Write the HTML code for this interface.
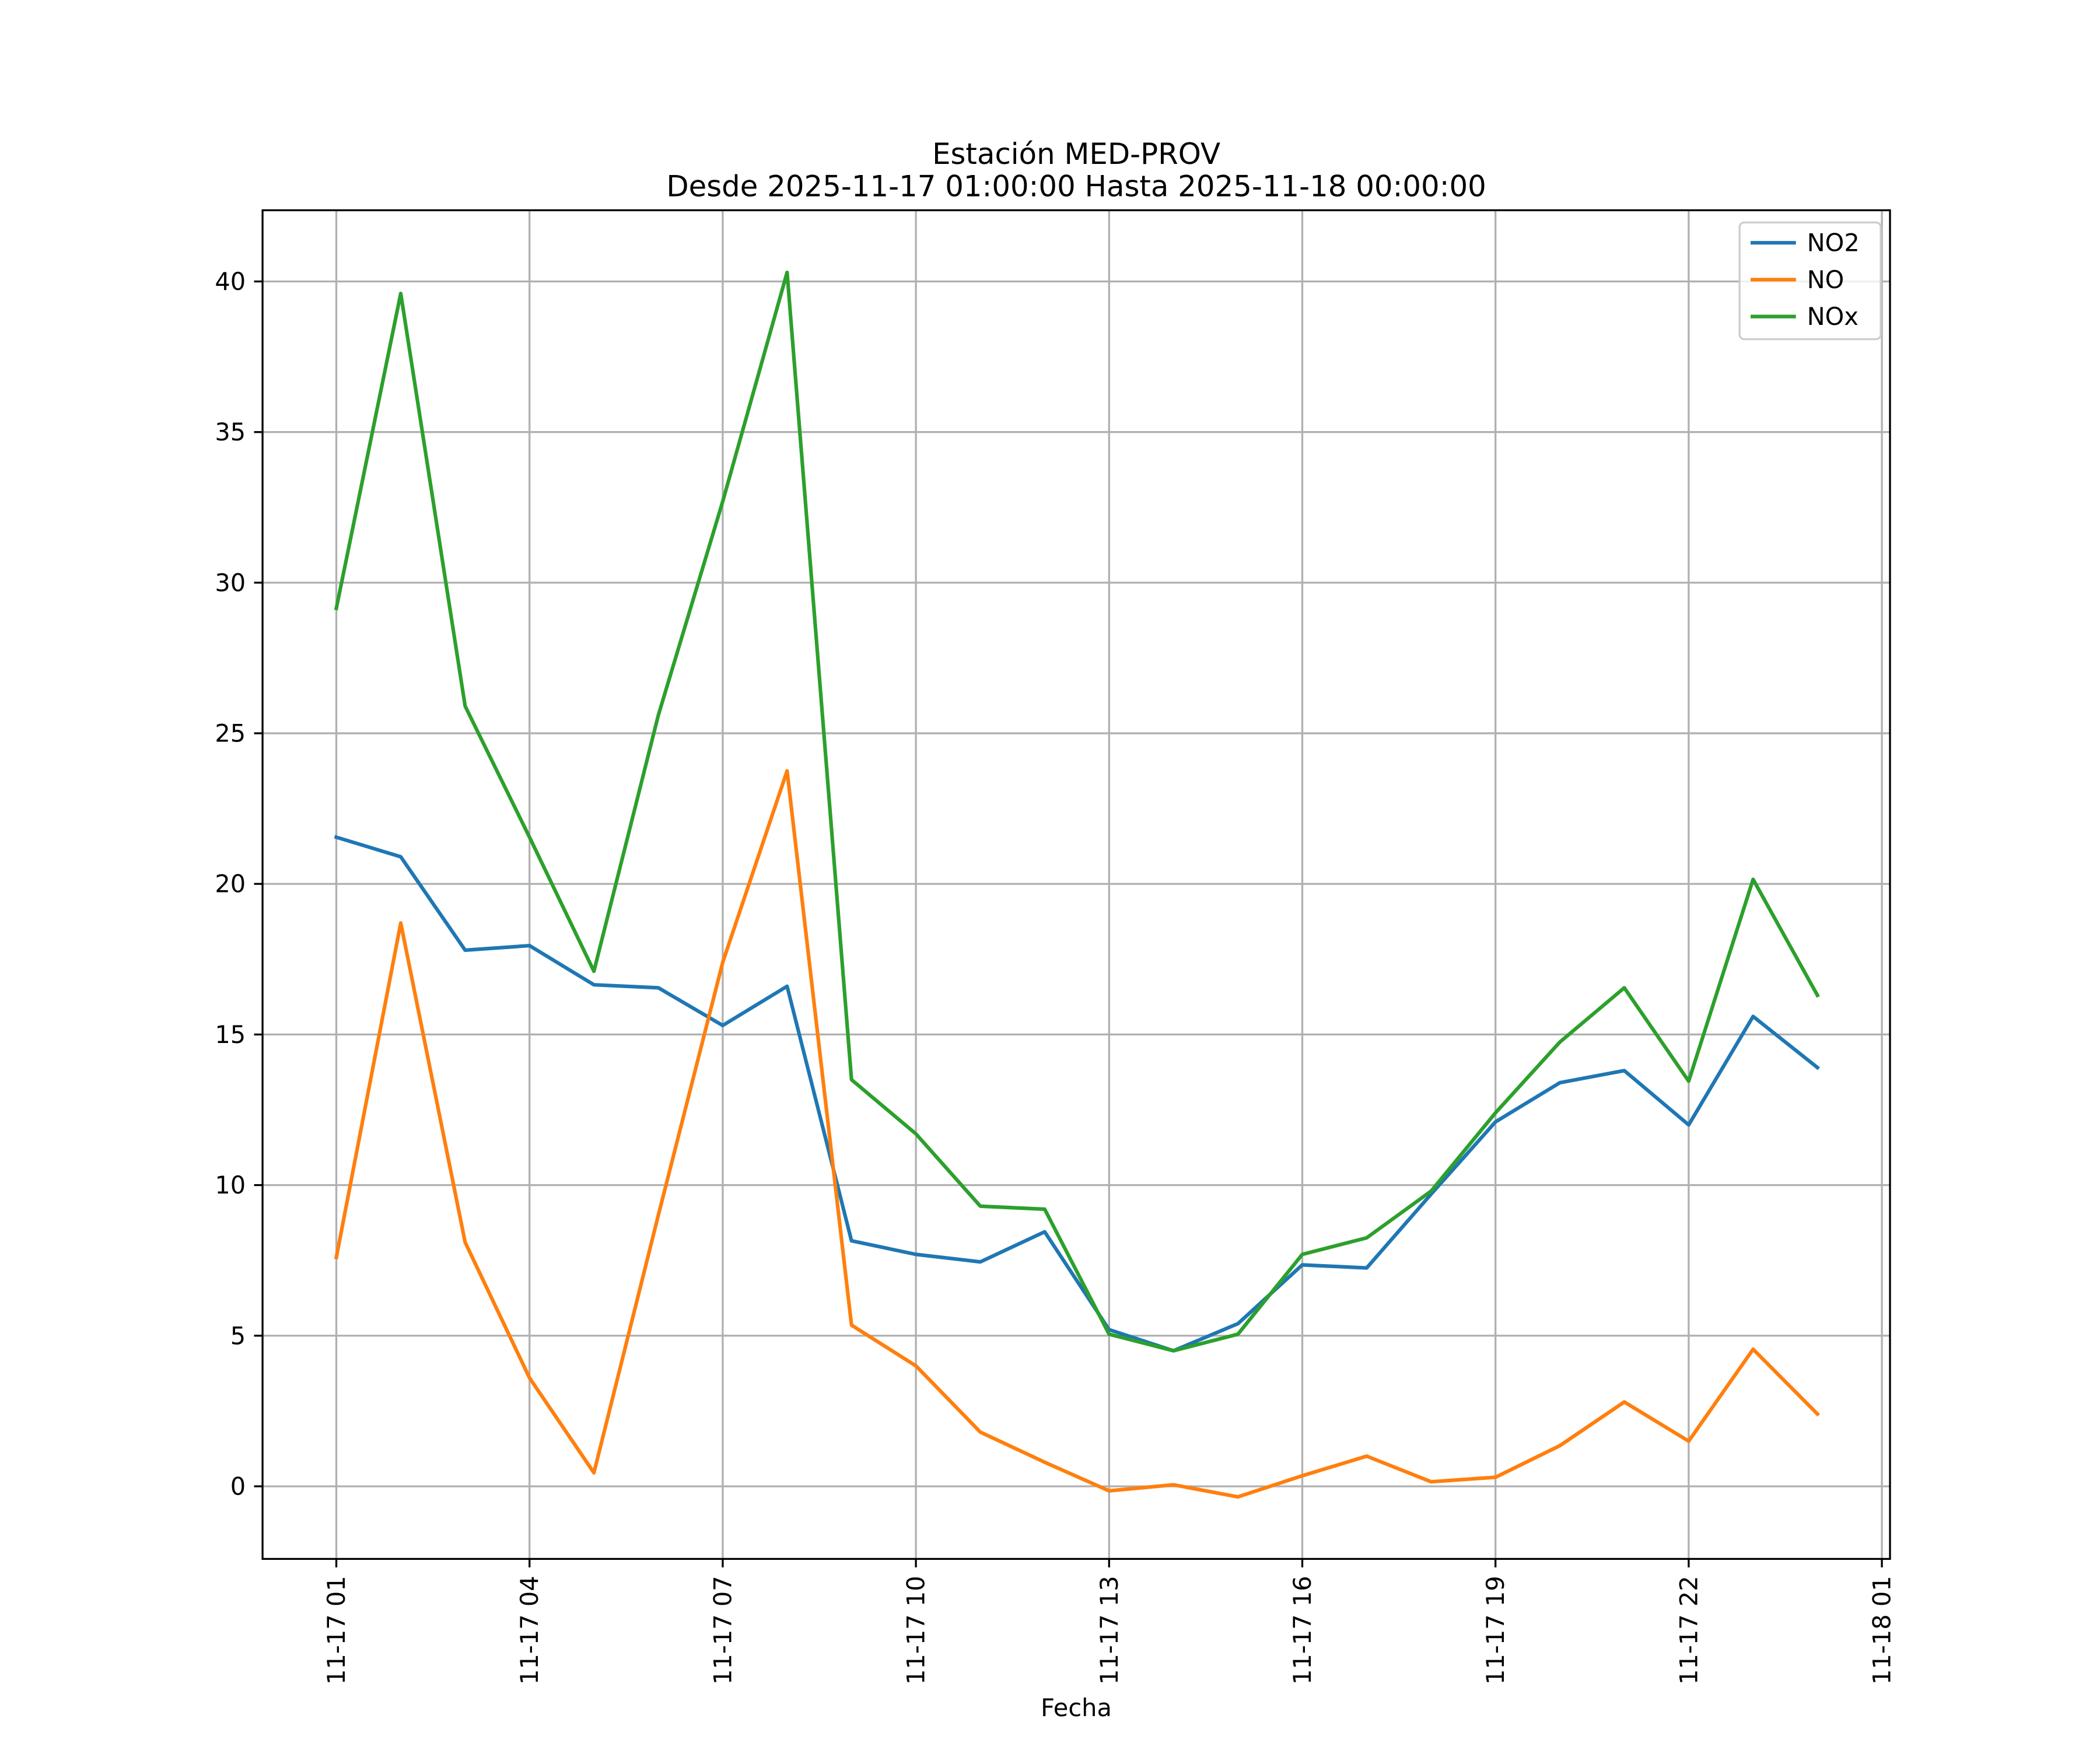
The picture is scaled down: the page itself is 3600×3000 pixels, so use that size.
<!DOCTYPE html>
<html><head><meta charset="utf-8"><style>html,body{margin:0;padding:0;background:#fff}svg{display:block}text{font-family:"DejaVu Sans","Liberation Sans",sans-serif}</style></head>
<body>
<svg id="chart" width="3600" height="3000" viewBox="0 0 3615.5 3013" xmlns="http://www.w3.org/2000/svg">
<rect x="0" y="0" width="3616" height="3014" fill="#fff"/>
<text x="1853" y="265" font-size="50" text-anchor="middle" dominant-baseline="central">Estación MED-PROV</text>
<text x="1853" y="321" font-size="50" text-anchor="middle" dominant-baseline="central">Desde 2025-11-17 01:00:00 Hasta 2025-11-18 00:00:00</text>
<g id="grid"></g>
<g id="series"></g>
<rect x="452" y="362" width="2802" height="2322" fill="none" stroke="#000" stroke-width="3.3"/>
<g id="axes"></g>
<text x="1853" y="2940" font-size="41.7" text-anchor="middle" dominant-baseline="central">Fecha</text>
<g id="legend"></g>
</svg>
<script>
const hours = [1,2,3,4,5,6,7,8,9,10,11,12,13,14,15,16,17,18,19,20,21,22,23,24];
const no2 = [21.55,20.9,17.8,17.95,16.65,16.55,15.3,16.6,8.15,7.7,7.45,8.45,5.2,4.5,5.4,7.35,7.25,9.7,12.1,13.4,13.8,12.0,15.6,13.9];
const no = [7.6,18.7,8.1,3.6,0.45,9.0,17.4,23.75,5.35,4.0,1.8,0.8,-0.15,0.05,-0.35,0.35,1.0,0.15,0.3,1.35,2.8,1.5,4.55,2.4];
const nox = [29.15,39.6,25.9,21.55,17.1,25.6,32.7,40.3,13.5,11.7,9.3,9.2,5.05,4.5,5.05,7.7,8.25,9.8,12.4,14.75,16.55,13.45,20.15,16.3];
const yTicks = [0,5,10,15,20,25,30,35,40];
const xTickHours = [1,4,7,10,13,16,19,22,25];
const xTickLabels = ["11-17 01","11-17 04","11-17 07","11-17 10","11-17 13","11-17 16","11-17 19","11-17 22","11-18 01"];
const seriesNames = ["NO2","NO","NOx"];
const seriesColors = ["#1f77b4","#ff7f0e","#2ca02c"];

const NS="http://www.w3.org/2000/svg";
const L=452,R=3254,T=362,B=2684;
function xs(h){return 579+(h-1)*(3240-579)/24;}
function ys(v){return 2559-v*(2559-484.6)/40;}
function mk(tag,attrs,parent){const e=document.createElementNS(NS,tag);for(const k in attrs)e.setAttribute(k,attrs[k]);parent.appendChild(e);return e;}
const grid=document.getElementById('grid'),axes=document.getElementById('axes'),ser=document.getElementById('series'),leg=document.getElementById('legend');
yTicks.forEach(v=>{
  const y=ys(v);
  const g=mk('line',{x1:L,x2:R,y1:y,y2:y,stroke:'#b0b0b0','stroke-width':3.3},grid);
  
  
  const t=mk('line',{x1:L-14.6,x2:L,y1:y,y2:y,stroke:'#000','stroke-width':3.3},axes);
  
  
  const tx=mk('text',{x:L-29,y:y,'font-size':41.7,'text-anchor':'end','dominant-baseline':'central'},axes);
  tx.textContent=String(v);
  
  
});
xTickHours.forEach((h,i)=>{
  const x=xs(h);
  const g=mk('line',{x1:x,x2:x,y1:T,y2:B,stroke:'#b0b0b0','stroke-width':3.3},grid);
  
  
  const t=mk('line',{x1:x,x2:x,y1:B,y2:B+14.6,stroke:'#000','stroke-width':3.3},axes);
  
  
  const tx=mk('text',{x:0,y:0,'font-size':41.7,'text-anchor':'end','dominant-baseline':'central',transform:`translate(${x},${B+29}) rotate(-90)`},axes);
  tx.textContent=xTickLabels[i];
  
  
});
[no2,no,nox].forEach((arr,si)=>{
  const pts=arr.map((v,i)=>xs(hours[i]).toFixed(1)+','+ys(v).toFixed(1)).join(' ');
  const p=mk('polyline',{points:pts,fill:'none',stroke:seriesColors[si],'stroke-width':6.25,'stroke-linejoin':'round','stroke-linecap':'square'},ser);
  
  
});
const box=mk('rect',{x:2995,y:383,width:243,height:201,rx:8,fill:'#fff','fill-opacity':0.8,stroke:'#ccc','stroke-width':3.3},leg);


seriesNames.forEach((n,i)=>{
  const y=418+i*63.5;
  const l=mk('line',{x1:3014,x2:3092,y1:y,y2:y,stroke:seriesColors[i],'stroke-width':6.25},leg);
  
  
  const t=mk('text',{x:3111,y:y,'font-size':41.7,'dominant-baseline':'central'},leg);
  t.textContent=n;
  
  
});
</script>
</body></html>
